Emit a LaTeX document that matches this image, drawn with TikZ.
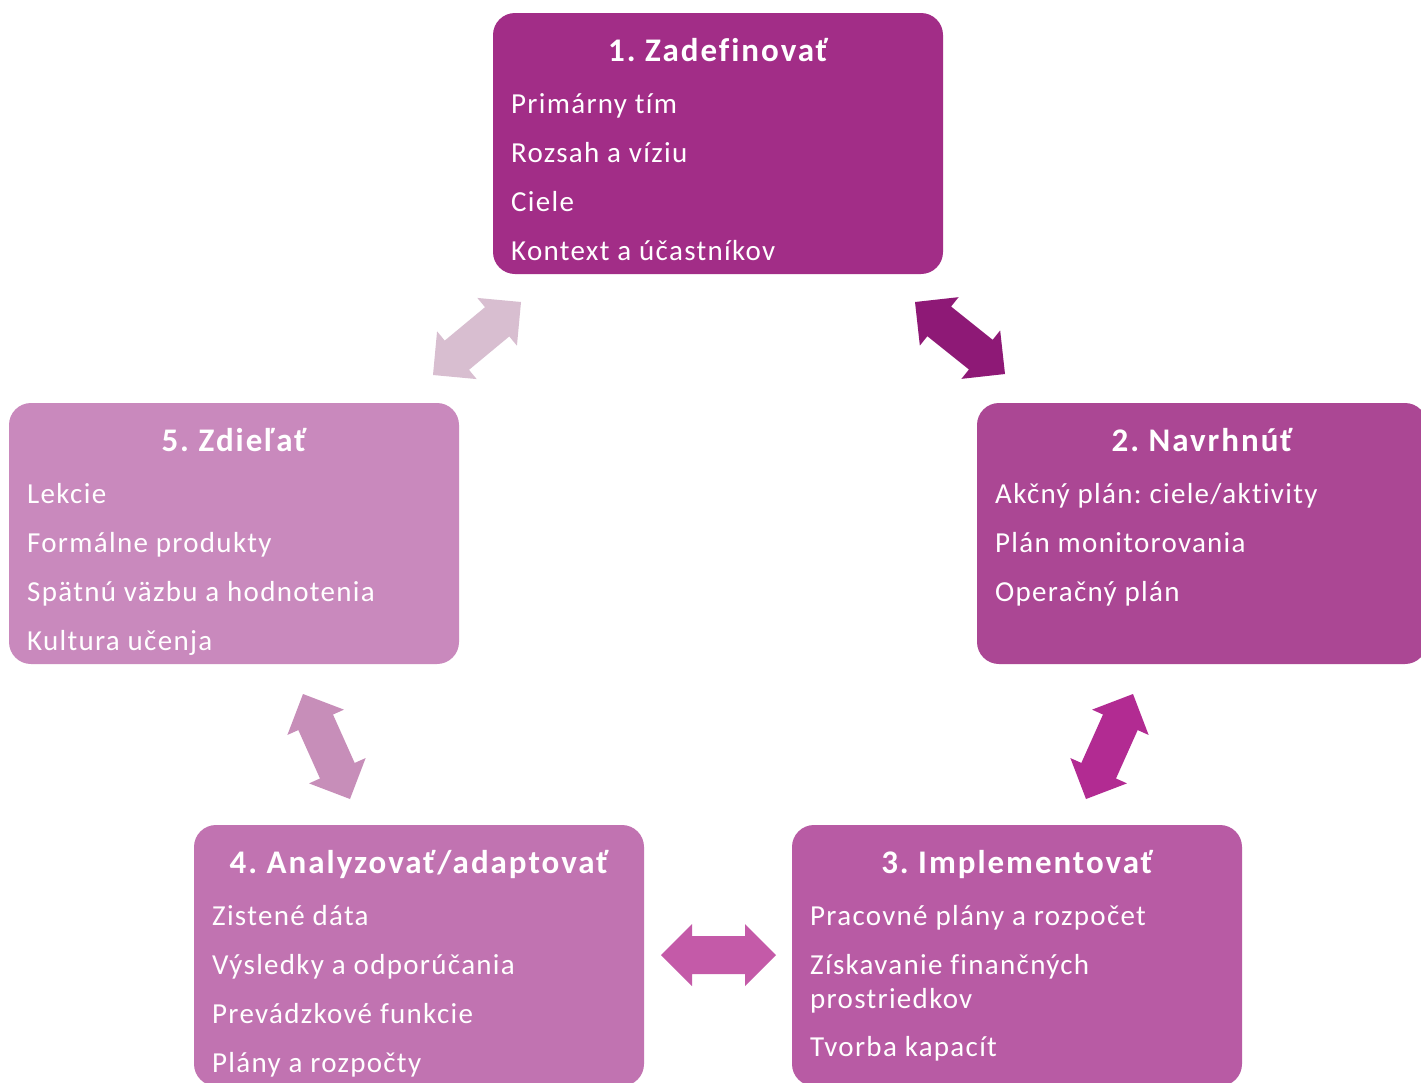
\documentclass[tikz,border=0pt]{standalone}
\usepackage{fontspec}
\setmainfont{Carlito}[Ligatures=NoCommon, LetterSpace=4.5]
\newfontfamily\ttlfont{Carlito}[Ligatures=NoCommon, LetterSpace=6]
\frenchspacing
\usetikzlibrary{calc}
\definecolor{boxA}{RGB}{162,45,135}
\definecolor{boxB}{RGB}{171,71,148}
\definecolor{boxC}{RGB}{184,91,164}
\definecolor{boxD}{RGB}{193,115,177}
\definecolor{boxE}{RGB}{201,137,189}
\definecolor{arrAB}{RGB}{142,25,118}
\definecolor{arrBC}{RGB}{178,43,146}
\definecolor{arrCD}{RGB}{196,90,168}
\definecolor{arrDE}{RGB}{199,142,185}
\definecolor{arrEA}{RGB}{216,190,208}
\tikzset{
  box/.style={rounded corners=22pt, minimum width=450pt, minimum height=261pt,
    anchor=north west, inner sep=0pt, outer sep=0pt, draw=none},
  ttl/.style={text=white, font=\ttlfont\fontsize{33}{39}\selectfont\bfseries, anchor=base, inner sep=0pt},
  itm/.style={text=white, font=\fontsize{29}{35}\selectfont, anchor=base west, inner sep=0pt},
}
\newcommand\dblarr[3]{%
  \fill[#3] (#1)
    -- ($(#1)!31pt!(#2)!31pt!90:(#2)$)
    -- ($(#1)!31pt!(#2)!19pt!90:(#2)$)
    -- ($(#2)!31pt!(#1)!19pt!-90:(#1)$)
    -- ($(#2)!31pt!(#1)!31pt!-90:(#1)$)
    -- (#2)
    -- ($(#2)!31pt!(#1)!31pt!90:(#1)$)
    -- ($(#2)!31pt!(#1)!19pt!90:(#1)$)
    -- ($(#1)!31pt!(#2)!19pt!-90:(#2)$)
    -- ($(#1)!31pt!(#2)!31pt!-90:(#2)$)
    -- cycle;}
\begin{document}
\begin{tikzpicture}[x=1pt,y=-1pt]
\path[use as bounding box] (0,0) rectangle (1421,1082);
\fill[white] (0,0) rectangle (1421,1082);
\clip (0,0) rectangle (1421,1082);

% boxes
\node[box, fill=boxA] (b1) at (493,13) {};
\node[box, fill=boxB] (b2) at (977,403) {};
\node[box, fill=boxC] (b3) at (792,825) {};
\node[box, fill=boxD] (b4) at (194,825) {};
\node[box, fill=boxE] (b5) at (9,403) {};

% box 1
\node[ttl] (t1) at (718,61) {1. Zadefinovať};
\node[itm] (l1a) at (511,113) {Primárny tím};
\node[itm] (l1b) at (511,162) {Rozsah a víziu};
\node[itm] (l1c) at (511,211) {Ciele};
\node[itm] (l1d) at (511,260) {Kontext a účastníkov};

% box 2
\node[ttl] (t2) at (1202,451) {2. Navrhnúť};
\node[itm] (l2a) at (995,503) {Akčný plán: ciele/aktivity};
\node[itm] (l2b) at (995,552) {Plán monitorovania};
\node[itm] (l2c) at (995,601) {Operačný plán};

% box 3
\node[ttl] (t3) at (1017,873) {3. Implementovať};
\node[itm] (l3a) at (810,925) {Pracovné plány a rozpočet};
\node[itm] (l3b) at (810,974) {Získavanie finančných};
\node[itm] (l3c) at (810,1008) {prostriedkov};
\node[itm] (l3d) at (810,1056) {Tvorba kapacít};

% box 4
\node[ttl] (t4) at (419,873) {4. Analyzovať/adaptovať};
\node[itm] (l4a) at (212,925) {Zistené dáta};
\node[itm] (l4b) at (212,974) {Výsledky a odporúčania};
\node[itm] (l4c) at (212,1023) {Prevádzkové funkcie};
\node[itm] (l4d) at (212,1072) {Plány a rozpočty};

% box 5
\node[ttl] (t5) at (234,451) {5. Zdieľať};
\node[itm] (l5a) at (27,503) {Lekcie};
\node[itm] (l5b) at (27,552) {Formálne produkty};
\node[itm] (l5c) at (27,601) {Spätnú väzbu a hodnotenia};
\node[itm] (l5d) at (27,650) {Kultura učenja};

% arrow end points
\coordinate (a12s) at (915,302);
\coordinate (a12e) at (1005,374);
\coordinate (a23s) at (1133,694);
\coordinate (a23e) at (1086,799);
\coordinate (a34s) at (661,955);
\coordinate (a34e) at (776,955);
\coordinate (a45s) at (303,694);
\coordinate (a45e) at (350,799);
\coordinate (a51s) at (433,375);
\coordinate (a51e) at (521,302);

\dblarr{a12s}{a12e}{arrAB}
\dblarr{a23s}{a23e}{arrBC}
\dblarr{a34s}{a34e}{arrCD}
\dblarr{a45s}{a45e}{arrDE}
\dblarr{a51s}{a51e}{arrEA}
\end{tikzpicture}
\end{document}
